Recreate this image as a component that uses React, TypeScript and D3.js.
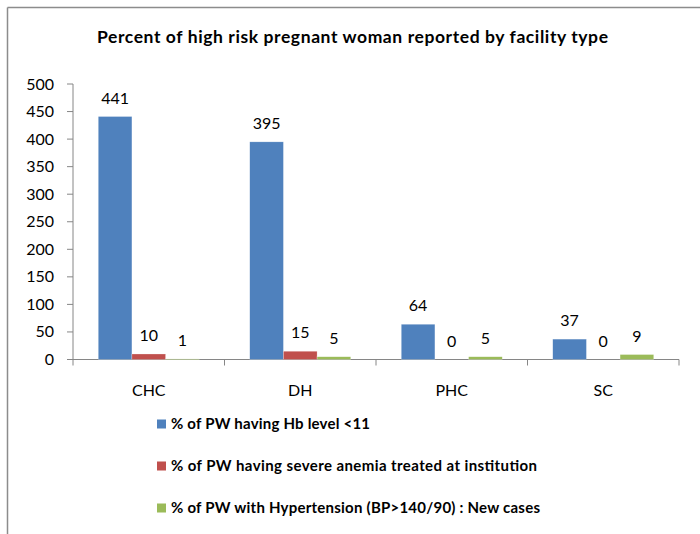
import React from 'react';
import * as d3 from 'd3';

const categories = ['CHC', 'DH', 'PHC', 'SC'];
const seriesNames = [
  '% of PW having Hb level <11',
  '% of PW having severe anemia treated at institution',
  '% of PW with Hypertension (BP>140/90) : New cases',
];
const hbValues = [441, 395, 64, 37];
const anemiaValues = [10, 15, 0, 0];
const hyperValues = [1, 5, 5, 9];
const yTicks = [0, 50, 100, 150, 200, 250, 300, 350, 400, 450, 500];
const colors = ['#4F81BD', '#C0504D', '#9BBB59'];
// measured text widths in the original, to make up for the missing Calibri
const legendWidths = [199, 366, 369];

const font = 'Lato, "Open Sans", sans-serif';

export default function App() {
  const series = [hbValues, anemiaValues, hyperValues];
  const left = 73, right = 679, top = 84, bottom = 359.5;

  const x = d3.scaleBand().domain(categories).range([left, right]);
  const inner = d3.scaleBand()
    .domain(d3.range(series.length).map(String))
    .range([0, x.bandwidth()])
    .paddingInner(0)
    .paddingOuter(0.75);
  const y = d3.scaleLinear().domain([0, 500]).range([bottom, top]);

  return (
    <svg width={700} height={534} style={{position: 'absolute', left: 0, top: 0, background: '#fff'}}
         fontFamily={font}>
      {/* frame */}
      <line x1={7.5} y1={7.5} x2={700} y2={7.5} stroke="#8c8c8c" strokeWidth={1.5} />
      <line x1={7.5} y1={7.5} x2={7.5} y2={534} stroke="#8c8c8c" strokeWidth={1.5} />

      <text x={97} y={43} fontWeight="bold" fontSize={17.5} fill="#000" textLength={511}>
        Percent of high risk pregnant woman reported by facility type
      </text>

      {/* y axis */}
      <line x1={left} x2={left} y1={top} y2={bottom} stroke="#868686" />
      {yTicks.map(t => (
        <g key={t}>
          <line x1={left - 6} x2={left} y1={y(t)} y2={y(t)} stroke="#868686" />
          <text x={54} y={y(t) + 5.5} textAnchor="end" fontSize={16}>{t}</text>
        </g>
      ))}

      {/* x axis */}
      <line x1={left} x2={right} y1={bottom} y2={bottom} stroke="#868686" />
      {x.domain().concat(['end']).map((c, i) => {
        const xx = i < categories.length ? x(c)! : right;
        return <line key={c} x1={xx} x2={xx} y1={bottom} y2={bottom + 6} stroke="#868686" />;
      })}
      {categories.map(c => (
        <text key={c} x={x(c)! + x.bandwidth() / 2} y={396} textAnchor="middle" fontSize={16}>{c}</text>
      ))}

      {/* bars */}
      {series.map((vals, si) => (
        <g key={si}>
          {vals.map((v, ci) => {
            const bx = x(categories[ci])! + inner(String(si))!;
            const h = bottom - y(v);
            return (
              <g key={ci}>
                {v > 0 && (
                  <rect x={bx} y={y(v)} width={inner.bandwidth()} height={h}
                        fill={colors[si]} stroke="#ffffff" strokeOpacity={0.5} strokeWidth={0.5} />
                )}
                <text x={bx + inner.bandwidth() / 2} y={y(v) - 13} textAnchor="middle" fontSize={16}>{v}</text>
              </g>
            );
          })}
        </g>
      ))}

      {/* legend */}
      {seriesNames.map((n, i) => (
        <g key={n} transform={`translate(157, ${424 + i * 42})`}>
          <rect x={0} y={-4.5} width={9} height={9} fill={colors[i]} />
          <text x={14} y={5} fontSize={15} fontWeight="bold" textLength={legendWidths[i]}>{n}</text>
        </g>
      ))}
    </svg>
  );
}
